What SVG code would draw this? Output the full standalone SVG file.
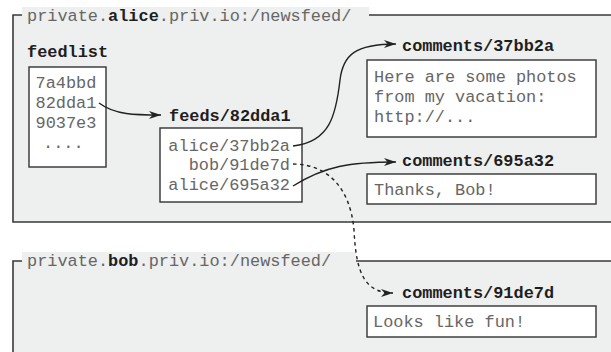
<svg xmlns="http://www.w3.org/2000/svg" width="611" height="352" viewBox="0 0 611 352">
<style>
.panel{fill:#eeefef;stroke:none}
.edge{stroke:#3a3a3a;stroke-width:1.6;fill:none}
.box{fill:#ffffff;stroke:#333333;stroke-width:1.4}
.t{font-family:"Liberation Mono","Courier New",monospace;font-size:16.9px;fill:#666666}
.b{font-family:"Liberation Mono","Courier New",monospace;font-size:16.9px;font-weight:bold;fill:#1e1e1e}
.c{fill:none;stroke:#222222;stroke-width:1.4}
.d{stroke-dasharray:3.5 3.5}
</style>
<defs>
<marker id="ah" markerUnits="userSpaceOnUse" markerWidth="14" markerHeight="10" refX="12" refY="4" orient="auto">
<path d="M0,0 L12,4 L0,8 L3.5,4 Z" fill="#222222"/>
</marker>
</defs>
<rect width="611" height="352" fill="#ffffff"/>
<g id="panel-alice">
<rect class="panel" x="13" y="15" width="598" height="207"/>
<rect class="panel" x="22" y="7" width="347" height="9"/>
<path class="edge" d="M22,15 H13 V222 H611 M369,15 H611"/>
<text class="t" x="27" y="20.5">private.<tspan class="b">alice</tspan>.priv.io:/newsfeed/</text>
</g>
<g id="panel-bob">
<rect class="panel" x="13" y="261" width="598" height="91"/>
<rect class="panel" x="22" y="252" width="334" height="10"/>
<path class="edge" d="M22,261 H13 V352 M356,261 H611"/>
<text class="t" x="27" y="266">private.<tspan class="b">bob</tspan>.priv.io:/newsfeed/</text>
</g>
<g id="feedlist">
<text class="b" x="27" y="57">feedlist</text>
<rect class="box" x="29" y="67" width="77" height="100"/>
<text class="t" x="35.5" y="88">7a4bbd</text>
<text class="t" x="35.5" y="108">82dda1</text>
<text class="t" x="35.5" y="128">9037e3</text>
<text class="t" x="43" y="148">....</text>
</g>
<g id="feeds-82dda1">
<text class="b" x="169" y="120.5">feeds/82dda1</text>
<rect class="box" x="160" y="128" width="142" height="74"/>
<text class="t" x="290" y="150.5" text-anchor="end">alice/37bb2a</text>
<text class="t" x="290" y="170" text-anchor="end">bob/91de7d</text>
<text class="t" x="290" y="190" text-anchor="end">alice/695a32</text>
</g>
<g id="comments-37bb2a">
<text class="b" x="402" y="51">comments/37bb2a</text>
<rect class="box" x="367" y="60" width="229" height="77"/>
<text class="t" x="374" y="82">Here are some photos</text>
<text class="t" x="374" y="102">from my vacation:</text>
<text class="t" x="374" y="122">http://...</text>
</g>
<g id="comments-695a32">
<text class="b" x="402" y="165.5">comments/695a32</text>
<rect class="box" x="367" y="174" width="229" height="30"/>
<text class="t" x="374" y="194.5">Thanks, Bob!</text>
</g>
<g id="comments-91de7d">
<text class="b" x="402" y="297.5">comments/91de7d</text>
<rect class="box" x="367" y="306" width="229" height="31"/>
<text class="t" x="373" y="326.5">Looks like fun!</text>
</g>
<g id="connectors">
<path class="c" marker-end="url(#ah)" d="M99,103 C115,115 135,115 161,115"/>
<path class="c" marker-end="url(#ah)" d="M293,146 C330,142 336,115 340,80 C343,55 355,44 396,44"/>
<path class="c" marker-end="url(#ah)" d="M293,186 C325,166 350,162 396,162"/>
<path class="c d" marker-end="url(#ah)" d="M293,164 C325,164 350,185 354,230 C356,272 364,293 393,293"/>
</g>
</svg>
